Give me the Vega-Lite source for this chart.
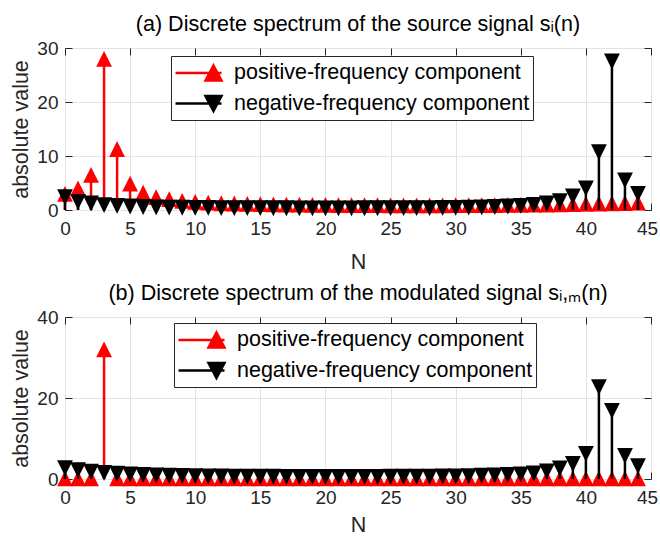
{
  "$schema": "https://vega.github.io/schema/vega-lite/v6.json",
  "padding": {"left": 10, "top": 13, "right": 0, "bottom": 0},
  "background": "white",
  "config": {
    "font": "Liberation Sans",
    "view": {"stroke": "#262626", "strokeWidth": 1},
    "axis": {
      "labelFont": "Liberation Sans", "labelFontSize": 19, "labelColor": "#262626",
      "titleFont": "Liberation Sans", "titleFontSize": 21.5, "titleFontWeight": "normal", "titleColor": "#262626",
      "gridColor": "#e3e3e3", "gridOpacity": 1, "domain": false, "tickColor": "#262626", "tickWidth": 1,
      "labelFlush": false, "labelOverlap": false
    },
    "title": {"font": "Liberation Sans", "fontSize": 21.5, "fontWeight": "normal", "color": "#000000", "offset": 4, "frame": "group"},
    "legend": {
      "title": null, "orient": "none", "labelFont": "Liberation Sans", "labelFontSize": 21.5, "labelColor": "#000000",
      "symbolSize": 576, "symbolStrokeWidth": 2.5, "labelOffset": 32.5, "rowPadding": 4.5, "padding": 3.5,
      "strokeColor": "#262626", "fillColor": "white", "labelLimit": 500
    }
  },
  "datasets": {
    "a": [
      {"N":0,"pos":3.0,"neg":2.4},{"N":1,"pos":4.0,"neg":1.5},{"N":2,"pos":6.5,"neg":1.2},{"N":3,"pos":28.0,"neg":0.9},
      {"N":4,"pos":11.3,"neg":0.75},{"N":5,"pos":4.9,"neg":0.65},{"N":6,"pos":3.2,"neg":0.55},{"N":7,"pos":2.4,"neg":0.5},
      {"N":8,"pos":2.0,"neg":0.45},{"N":9,"pos":1.7,"neg":0.42},{"N":10,"pos":1.5,"neg":0.4},{"N":11,"pos":1.35,"neg":0.38},
      {"N":12,"pos":1.25,"neg":0.36},{"N":13,"pos":1.2,"neg":0.35},{"N":14,"pos":1.15,"neg":0.34},{"N":15,"pos":1.1,"neg":0.33},
      {"N":16,"pos":1.05,"neg":0.32},{"N":17,"pos":1.0,"neg":0.32},{"N":18,"pos":1.0,"neg":0.31},{"N":19,"pos":0.95,"neg":0.31},
      {"N":20,"pos":0.95,"neg":0.31},{"N":21,"pos":0.9,"neg":0.31},{"N":22,"pos":0.9,"neg":0.31},{"N":23,"pos":0.9,"neg":0.32},
      {"N":24,"pos":0.9,"neg":0.32},{"N":25,"pos":0.85,"neg":0.33},{"N":26,"pos":0.85,"neg":0.34},{"N":27,"pos":0.85,"neg":0.35},
      {"N":28,"pos":0.85,"neg":0.36},{"N":29,"pos":0.85,"neg":0.38},{"N":30,"pos":0.9,"neg":0.4},{"N":31,"pos":0.9,"neg":0.43},
      {"N":32,"pos":0.9,"neg":0.48},{"N":33,"pos":0.9,"neg":0.55},{"N":34,"pos":0.95,"neg":0.65},{"N":35,"pos":0.95,"neg":0.78},
      {"N":36,"pos":1.0,"neg":0.95},{"N":37,"pos":1.0,"neg":1.2},{"N":38,"pos":1.05,"neg":1.65},{"N":39,"pos":1.1,"neg":2.5},
      {"N":40,"pos":1.15,"neg":4.0},{"N":41,"pos":1.2,"neg":10.7},{"N":42,"pos":1.25,"neg":27.5},{"N":43,"pos":1.3,"neg":5.5},
      {"N":44,"pos":1.35,"neg":3.0}
    ],
    "b": [
      {"N":0,"pos":0.15,"neg":2.7},{"N":1,"pos":0.15,"neg":2.2},{"N":2,"pos":0.15,"neg":1.8},{"N":3,"pos":32.0,"neg":1.5},
      {"N":4,"pos":0.15,"neg":1.3},{"N":5,"pos":0.15,"neg":1.15},{"N":6,"pos":0.15,"neg":1.0},{"N":7,"pos":0.15,"neg":0.9},
      {"N":8,"pos":0.15,"neg":0.8},{"N":9,"pos":0.15,"neg":0.75},{"N":10,"pos":0.15,"neg":0.7},{"N":11,"pos":0.15,"neg":0.65},
      {"N":12,"pos":0.15,"neg":0.62},{"N":13,"pos":0.15,"neg":0.6},{"N":14,"pos":0.15,"neg":0.58},{"N":15,"pos":0.15,"neg":0.56},
      {"N":16,"pos":0.15,"neg":0.55},{"N":17,"pos":0.15,"neg":0.54},{"N":18,"pos":0.15,"neg":0.53},{"N":19,"pos":0.15,"neg":0.52},
      {"N":20,"pos":0.15,"neg":0.52},{"N":21,"pos":0.15,"neg":0.52},{"N":22,"pos":0.15,"neg":0.52},{"N":23,"pos":0.15,"neg":0.53},
      {"N":24,"pos":0.15,"neg":0.54},{"N":25,"pos":0.15,"neg":0.55},{"N":26,"pos":0.15,"neg":0.56},{"N":27,"pos":0.15,"neg":0.58},
      {"N":28,"pos":0.15,"neg":0.6},{"N":29,"pos":0.15,"neg":0.63},{"N":30,"pos":0.15,"neg":0.67},{"N":31,"pos":0.15,"neg":0.72},
      {"N":32,"pos":0.15,"neg":0.8},{"N":33,"pos":0.15,"neg":0.9},{"N":34,"pos":0.15,"neg":1.0},{"N":35,"pos":0.15,"neg":1.15},
      {"N":36,"pos":0.15,"neg":1.4},{"N":37,"pos":0.15,"neg":1.9},{"N":38,"pos":0.15,"neg":2.6},{"N":39,"pos":0.15,"neg":3.7},
      {"N":40,"pos":0.15,"neg":6.2},{"N":41,"pos":0.15,"neg":22.7},{"N":42,"pos":0.15,"neg":16.8},{"N":43,"pos":0.15,"neg":5.7},
      {"N":44,"pos":0.15,"neg":3.2}
    ]
  },
  "spacing": 8,
  "resolve": {"scale": {"color": "independent"}, "legend": {"color": "independent"}},
  "vconcat": [
    {
      "title": {"text": "(a) Discrete spectrum of the source signal sᵢ(n)"},
      "width": 586, "height": 162,
      "data": {"name": "a"},
      "resolve": {"axis": {"x": "independent", "y": "independent"}},
      "layer": [
        {
          "mark": {"type": "rule", "strokeWidth": 2.5},
          "encoding": {
            "x": {"field": "N", "type": "quantitative", "scale": {"domain": [0, 45], "nice": false},
                  "axis": {"values": [0,5,10,15,20,25,30,35,40,45], "title": "N", "grid": true, "tickSize": -7, "labelPadding": 16.5, "titlePadding": 13,
                           "labelOffset": {"condition": {"test": "datum.value === 45", "value": -4}, "value": 0}}},
            "y": {"field": "pos", "type": "quantitative", "scale": {"domain": [0, 30], "nice": false},
                  "axis": {"values": [0,10,20,30], "title": "absolute value", "grid": true, "tickSize": -7, "labelPadding": 14, "titlePadding": 4}},
            "y2": {"datum": 0},
            "color": {"datum": "positive-frequency component", "type": "nominal",
                      "scale": {"domain": ["positive-frequency component", "negative-frequency component"], "range": ["#ff0000", "#000000"]},
                      "legend": {"legendX": 106, "legendY": 8,
                        "encode": {"symbols": {"update": {
                          "shape": {"signal": "datum.value === 'positive-frequency component' ? 'M-1.04,0H2.79M2.125,-0.625L2.79,0.625L1.46,0.625Z' : 'M-1.04,0H2.79M2.125,0.625L2.79,-0.625L1.46,-0.625Z'"},
                          "fill": {"signal": "datum.value === 'positive-frequency component' ? '#ff0000' : '#000000'"},
                          "stroke": {"signal": "datum.value === 'positive-frequency component' ? '#ff0000' : '#000000'"},
                          "strokeWidth": {"value": 2.5},
                          "opacity": {"value": 1}
                        }}}}}
          }
        },
        {
          "mark": {"type": "point", "filled": true, "opacity": 1, "size": 250, "shape": "M0,-1L1,1L-1,1Z", "strokeWidth": 0},
          "encoding": {
            "x": {"field": "N", "type": "quantitative", "axis": null},
            "y": {"field": "pos", "type": "quantitative", "axis": null},
            "color": {"datum": "positive-frequency component", "type": "nominal"}
          }
        },
        {
          "mark": {"type": "rule", "strokeWidth": 2.5},
          "encoding": {
            "x": {"field": "N", "type": "quantitative",
                  "axis": {"orient": "top", "values": [0,5,10,15,20,25,30,35,40,45], "labels": false, "title": null, "grid": false, "tickSize": -7}},
            "y": {"field": "neg", "type": "quantitative",
                  "axis": {"orient": "right", "values": [0,10,20,30], "labels": false, "title": null, "grid": false, "tickSize": -7}},
            "y2": {"datum": 0},
            "color": {"datum": "negative-frequency component", "type": "nominal"}
          }
        },
        {
          "mark": {"type": "point", "filled": true, "opacity": 1, "size": 250, "shape": "M0,1L1,-1L-1,-1Z", "strokeWidth": 0},
          "encoding": {
            "x": {"field": "N", "type": "quantitative", "axis": null},
            "y": {"field": "neg", "type": "quantitative", "axis": null},
            "color": {"datum": "negative-frequency component", "type": "nominal"}
          }
        }
      ]
    },
    {
      "title": {"text": "(b) Discrete spectrum of the modulated signal sᵢ,ₘ(n)"},
      "width": 586, "height": 162,
      "data": {"name": "b"},
      "resolve": {"axis": {"x": "independent", "y": "independent"}},
      "layer": [
        {
          "mark": {"type": "rule", "strokeWidth": 2.5},
          "encoding": {
            "x": {"field": "N", "type": "quantitative", "scale": {"domain": [0, 45], "nice": false},
                  "axis": {"values": [0,5,10,15,20,25,30,35,40,45], "title": "N", "grid": true, "tickSize": -7, "labelPadding": 16.5, "titlePadding": 7,
                           "labelOffset": {"condition": {"test": "datum.value === 45", "value": -4}, "value": 0}}},
            "y": {"field": "pos", "type": "quantitative", "scale": {"domain": [0, 40], "nice": false},
                  "axis": {"values": [0,20,40], "title": "absolute value", "grid": true, "tickSize": -7, "labelPadding": 14, "titlePadding": 4}},
            "y2": {"datum": 0},
            "color": {"datum": "positive-frequency component", "type": "nominal",
                      "scale": {"domain": ["positive-frequency component", "negative-frequency component"], "range": ["#ff0000", "#000000"]},
                      "legend": {"legendX": 109, "legendY": 6,
                        "encode": {"symbols": {"update": {
                          "shape": {"signal": "datum.value === 'positive-frequency component' ? 'M-1.04,0H2.79M2.125,-0.625L2.79,0.625L1.46,0.625Z' : 'M-1.04,0H2.79M2.125,0.625L2.79,-0.625L1.46,-0.625Z'"},
                          "fill": {"signal": "datum.value === 'positive-frequency component' ? '#ff0000' : '#000000'"},
                          "stroke": {"signal": "datum.value === 'positive-frequency component' ? '#ff0000' : '#000000'"},
                          "strokeWidth": {"value": 2.5},
                          "opacity": {"value": 1}
                        }}}}}
          }
        },
        {
          "mark": {"type": "point", "filled": true, "opacity": 1, "size": 250, "shape": "M0,-1L1,1L-1,1Z", "strokeWidth": 0},
          "encoding": {
            "x": {"field": "N", "type": "quantitative", "axis": null},
            "y": {"field": "pos", "type": "quantitative", "axis": null},
            "color": {"datum": "positive-frequency component", "type": "nominal"}
          }
        },
        {
          "mark": {"type": "rule", "strokeWidth": 2.5},
          "encoding": {
            "x": {"field": "N", "type": "quantitative",
                  "axis": {"orient": "top", "values": [0,5,10,15,20,25,30,35,40,45], "labels": false, "title": null, "grid": false, "tickSize": -7}},
            "y": {"field": "neg", "type": "quantitative",
                  "axis": {"orient": "right", "values": [0,20,40], "labels": false, "title": null, "grid": false, "tickSize": -7}},
            "y2": {"datum": 0},
            "color": {"datum": "negative-frequency component", "type": "nominal"}
          }
        },
        {
          "mark": {"type": "point", "filled": true, "opacity": 1, "size": 250, "shape": "M0,1L1,-1L-1,-1Z", "strokeWidth": 0},
          "encoding": {
            "x": {"field": "N", "type": "quantitative", "axis": null},
            "y": {"field": "neg", "type": "quantitative", "axis": null},
            "color": {"datum": "negative-frequency component", "type": "nominal"}
          }
        }
      ]
    }
  ]
}
